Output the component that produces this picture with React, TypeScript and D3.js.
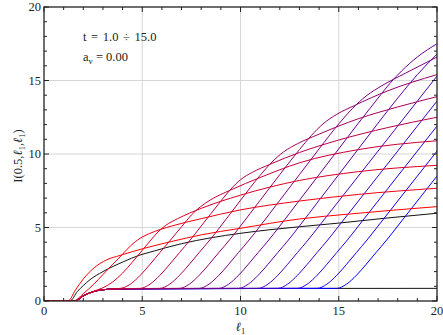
import { useEffect, useRef } from "react";
import * as d3 from "d3";

// parameter values of the family (t = 1 ... 15)
const tValues = [1, 2, 3, 4, 5, 6, 7, 8, 9, 10, 11, 12, 13, 14, 15];

// black reference curve
const blackCurve: [number, number][] = [
  [0, 0], [1.32, 0], [1.7, 0.65], [2.0, 1.05], [2.34, 1.45], [3.0, 2.0], [4.04, 2.67], [4.89, 3.13],
  [5.39, 3.32], [7, 3.9], [8.5, 4.3], [9.97, 4.6], [11.5, 4.85], [13, 5.05], [15, 5.3], [17.5, 5.65], [20, 5.97],
];
const blackFlat: [number, number][] = [[1.58, 0], [2.0, 0.35], [2.68, 0.7], [3.3, 0.8], [3.87, 0.83], [4.5, 0.85], [20, 0.86]];

// curves, one per t
const curves: [number, number][][] = [
  // t = 1
  [[0, 0], [1.22, 0], [1.6, 0.75], [2.0, 1.5], [2.5, 2.2], [3.19, 2.8], [3.87, 3.1], [5, 3.55], [6.5, 4.05], [8, 4.5], [9.97, 4.94], [13, 5.58], [15.57, 5.92], [20, 6.42]],
  // t = 2
  [[0, 0], [1.5, 0], [2.0, 0.5], [2.5, 1.1], [3.0, 1.8], [3.5, 2.5], [3.87, 3.0], [4.4, 3.75], [4.89, 4.27], [5.39, 4.6], [6.5, 5.1], [8, 5.6], [9.97, 6.19], [13, 6.8], [16, 7.25], [20, 7.67]],
  // t = 3
  [[0, 0], [1.58, 0], [2.0, 0.35], [2.5, 0.65], [3.0, 0.9], [3.5, 1.3], [4.0, 1.9], [4.5, 2.65], [5.0, 3.45], [5.44, 4.15], [5.8, 4.7], [6.2, 5.15], [6.8, 5.6], [8, 6.3], [10, 7.2], [13, 8.2], [16, 8.8], [20, 9.23]],
  // t = 4
  [[0, 0], [1.58, 0], [2.0, 0.35], [2.68, 0.7], [3.3, 0.8], [3.9, 0.86], [4.4, 1.15], [4.9, 1.75], [5.4, 2.5], [5.9, 3.3], [6.44, 4.15], [7, 5.05], [7.5, 5.85], [7.95, 6.4], [8.5, 6.9], [9.5, 7.55], [11, 8.4], [13, 9.4], [16, 10.3], [20, 10.9]],
  // t = 5
  [[0, 0], [1.58, 0], [2.0, 0.35], [2.68, 0.7], [3.3, 0.8], [3.87, 0.83], [4.9, 0.86], [5.4, 1.15], [5.9, 1.75], [6.4, 2.5], [6.9, 3.3], [7.44, 4.15], [8, 5.1], [8.5, 5.95], [9, 6.8], [9.5, 7.6], [10, 8.25], [10.6, 8.75], [11.5, 9.3], [13, 10.1], [15, 10.95], [17.5, 11.8], [20, 12.5]],
  // t = 6
  [[0, 0], [1.58, 0], [2.0, 0.35], [2.68, 0.7], [3.3, 0.8], [3.87, 0.83], [5.9, 0.86], [6.4, 1.15], [6.9, 1.75], [7.4, 2.5], [7.9, 3.3], [8.44, 4.15], [9, 5.1], [10, 6.85], [11, 8.55], [11.6, 9.45], [12.2, 10.15], [12.9, 10.7], [14, 11.35], [16, 12.4], [18, 13.2], [20, 13.9]],
  // t = 7
  [[0, 0], [1.58, 0], [2.0, 0.35], [2.68, 0.7], [3.3, 0.8], [3.87, 0.83], [6.9, 0.86], [7.4, 1.15], [7.9, 1.75], [8.4, 2.5], [8.9, 3.3], [9.44, 4.15], [10, 5.1], [11, 6.85], [12, 8.6], [13, 10.3], [13.6, 11.25], [14.2, 12.05], [14.9, 12.7], [15.8, 13.3], [17.5, 14.3], [20, 15.4]],
  // t = 8
  [[0, 0], [1.58, 0], [2.0, 0.35], [2.68, 0.7], [3.3, 0.8], [3.87, 0.83], [7.9, 0.86], [8.4, 1.15], [8.9, 1.75], [9.4, 2.5], [9.9, 3.3], [10.44, 4.15], [11, 5.1], [12, 6.85], [13, 8.6], [14, 10.35], [15, 12.05], [15.7, 13.1], [16.4, 13.95], [17.2, 14.65], [18.4, 15.5], [20, 16.6]],
  // t = 9
  [[0, 0], [1.58, 0], [2.0, 0.35], [2.68, 0.7], [3.3, 0.8], [3.87, 0.83], [8.9, 0.86], [9.4, 1.15], [9.9, 1.75], [10.4, 2.5], [10.9, 3.3], [11.44, 4.15], [12, 5.1], [13, 6.85], [14, 8.6], [15, 10.35], [16, 12.1], [17, 13.8], [17.6, 14.8], [18.2, 15.65], [19, 16.6], [20, 17.5]],
  // t = 10
  [[0, 0], [1.58, 0], [2.0, 0.35], [2.68, 0.7], [3.3, 0.8], [3.87, 0.83], [9.9, 0.86], [10.4, 1.15], [10.9, 1.75], [11.4, 2.5], [11.9, 3.3], [12.44, 4.15], [13, 5.1], [14, 6.85], [15, 8.6], [16, 10.35], [17, 12.1], [18, 13.8], [19, 15.4], [20, 16.8]],
  // t = 11
  [[0, 0], [1.58, 0], [2.0, 0.35], [2.68, 0.7], [3.3, 0.8], [3.87, 0.83], [10.9, 0.86], [11.4, 1.15], [11.9, 1.75], [12.4, 2.5], [12.9, 3.3], [13.44, 4.15], [14, 5.1], [15, 6.8], [16, 8.5], [17, 10.2], [18, 11.9], [19, 13.6], [20, 15.3]],
  // t = 12
  [[0, 0], [1.58, 0], [2.0, 0.35], [2.68, 0.7], [3.3, 0.8], [3.87, 0.83], [11.9, 0.86], [12.4, 1.15], [12.9, 1.75], [13.4, 2.5], [13.9, 3.3], [14.44, 4.15], [15, 5.1], [16, 6.8], [17, 8.5], [18, 10.2], [19, 11.9], [20, 13.6]],
  // t = 13
  [[0, 0], [1.58, 0], [2.0, 0.35], [2.68, 0.7], [3.3, 0.8], [3.87, 0.83], [12.9, 0.86], [13.4, 1.15], [13.9, 1.75], [14.4, 2.5], [14.9, 3.3], [15.44, 4.15], [16, 5.1], [17, 6.8], [18, 8.5], [19, 10.2], [20, 11.9]],
  // t = 14
  [[0, 0], [1.58, 0], [2.0, 0.35], [2.68, 0.7], [3.3, 0.8], [3.87, 0.83], [13.9, 0.86], [14.4, 1.15], [14.9, 1.75], [15.4, 2.5], [15.9, 3.3], [16.44, 4.15], [17, 5.1], [18, 6.8], [19, 8.5], [20, 10.2]],
  // t = 15
  [[0, 0], [1.58, 0], [2.0, 0.35], [2.68, 0.7], [3.3, 0.8], [3.87, 0.83], [14.9, 0.86], [15.4, 1.15], [15.9, 1.75], [16.4, 2.5], [16.9, 3.3], [17.44, 4.15], [18, 5.1], [19, 6.8], [20, 8.5]],
];

const xTicks = [0, 5, 10, 15, 20];
const yTicks = [0, 5, 10, 15, 20];

export default function App() {
  const ref = useRef<SVGSVGElement>(null);

  useEffect(() => {
    const width = 443;
    const height = 335;
    const svg = d3.select(ref.current);
    svg.selectAll("*").remove();
    svg.attr("width", width).attr("height", height);

    const x = d3.scaleLinear().domain([0, 20]).range([44, 437]);
    const y = d3.scaleLinear().domain([0, 20]).range([301, 7]);
    const font = "'Liberation Serif', 'Times New Roman', serif";

    svg.append("rect").attr("width", width).attr("height", height).attr("fill", "white");

    // grid
    const grid = svg.append("g").attr("stroke", "#d6d6d6").attr("stroke-width", 1);
    [5, 10, 15].forEach((v) => {
      grid.append("line").attr("x1", x(v)).attr("x2", x(v)).attr("y1", y(0)).attr("y2", y(20));
      grid.append("line").attr("x1", x(0)).attr("x2", x(20)).attr("y1", y(v)).attr("y2", y(v));
    });

    const clip = svg.append("clipPath").attr("id", "plotclip");
    clip.append("rect").attr("x", x(0)).attr("y", y(20)).attr("width", x(20) - x(0)).attr("height", y(0) - y(20));

    const plot = svg.append("g").attr("clip-path", "url(#plotclip)");
    const line = d3
      .line<[number, number]>()
      .x((d) => x(d[0]))
      .y((d) => y(d[1]))
      .curve(d3.curveMonotoneX);

    plot.append("path").datum(blackFlat).attr("fill", "none").attr("stroke", "#111").attr("stroke-width", 1).attr("d", line);
    plot.append("path").datum(blackCurve).attr("fill", "none").attr("stroke", "#111").attr("stroke-width", 1).attr("d", line);

    const color = d3.interpolateRgb("#ff0000", "#0000ff");
    // draw the last t first so the red curves lie on top
    for (let i = curves.length - 1; i >= 0; i--) {
      plot
        .append("path")
        .datum(curves[i])
        .attr("fill", "none")
        .attr("stroke", color((tValues[i] - 1) / 14))
        .attr("stroke-width", 1)
        .attr("d", line);
    }

    // frame with ticks on all sides
    const frame = svg.append("g").attr("stroke", "#222").attr("fill", "none");
    frame.append("rect").attr("x", x(0)).attr("y", y(20)).attr("width", x(20) - x(0)).attr("height", y(0) - y(20)).attr("stroke-width", 1.3);
    d3.range(0, 21).forEach((v) => {
      const major = v % 5 === 0;
      const len = major ? 5 : 3;
      frame.append("line").attr("x1", x(v)).attr("x2", x(v)).attr("y1", y(0)).attr("y2", y(0) - len);
      frame.append("line").attr("x1", x(v)).attr("x2", x(v)).attr("y1", y(20)).attr("y2", y(20) + len);
      frame.append("line").attr("x1", x(0)).attr("x2", x(0) + len).attr("y1", y(v)).attr("y2", y(v));
      frame.append("line").attr("x1", x(20)).attr("x2", x(20) - len).attr("y1", y(v)).attr("y2", y(v));
    });

    const labels = svg.append("g").attr("font-family", font).attr("font-size", 12.5).attr("fill", "#222");
    xTicks.forEach((v) => {
      labels.append("text").attr("x", x(v)).attr("y", y(0) + 14).attr("text-anchor", "middle").text(v);
    });
    yTicks.forEach((v) => {
      labels.append("text").attr("x", x(0) - 3).attr("y", y(v) + 4).attr("text-anchor", "end").text(v);
    });

    // axis titles
    const xt = labels.append("text").attr("x", x(10)).attr("y", 331).attr("text-anchor", "middle").attr("font-style", "italic");
    xt.append("tspan").text("ℓ");
    xt.append("tspan").attr("font-size", 8.5).attr("dy", 3).attr("font-style", "normal").text("1");

    const yt = labels.append("text").attr("transform", "translate(22,156) rotate(-90)").attr("text-anchor", "middle");
    yt.append("tspan").text("I(0.5,");
    yt.append("tspan").attr("font-style", "italic").text("ℓ");
    yt.append("tspan").attr("font-size", 8.5).attr("dy", 3).text("1");
    yt.append("tspan").attr("dy", -3).text(",");
    yt.append("tspan").attr("font-style", "italic").text("ℓ");
    yt.append("tspan").attr("font-size", 8.5).attr("dy", 3).text("1");
    yt.append("tspan").attr("dy", -3).text(")");

    // annotations
    labels.append("text").attr("x", 83).attr("y", 41).attr("word-spacing", 1.5).text("t = 1.0 ÷ 15.0");
    const av = labels.append("text").attr("x", 83).attr("y", 61);
    av.append("tspan").text("a");
    av.append("tspan").attr("font-size", 8.5).attr("dy", 3).text("v");
    av.append("tspan").attr("dy", -3).text(" = 0.00");
  }, []);

  return <svg ref={ref} style={{ position: "absolute", left: 0, top: 0 }}></svg>;
}
